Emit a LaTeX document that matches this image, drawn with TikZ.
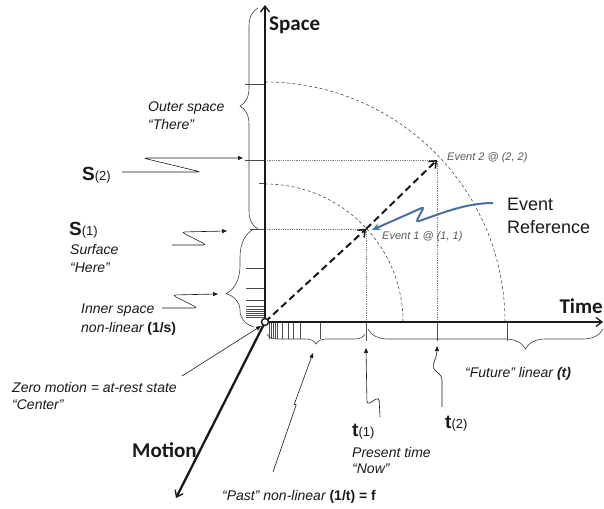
\documentclass[tikz,border=0pt]{standalone}
\usepackage{fontspec}
\setmainfont{Liberation Sans}
\newfontfamily\titlefont{Carlito}
\usetikzlibrary{arrows.meta,decorations.pathreplacing,calc}
\definecolor{evblue}{RGB}{72,112,160}
\definecolor{ink}{RGB}{25,25,25}
\newcommand\symlab[2]{{\fontsize{19}{19}\selectfont\bfseries #1}{\fontsize{13}{13}\selectfont #2}}
\tikzset{
  ax/.style    ={line width=2.3pt,ink,-{Straight Barb[length=6pt,width=9pt,line width=1.3pt]}},
  vec/.style   ={line width=2pt,ink,dash pattern=on 7pt off 4pt,-{Straight Barb[length=6pt,width=10pt,line width=1.5pt]}},
  ttl/.style   ={font=\titlefont\bfseries\fontsize{21}{21}\selectfont,inner sep=0pt,text=ink},
  lbl/.style   ={font=\itshape\fontsize{14}{16}\selectfont,inner sep=0pt,text=ink},
  sym/.style   ={inner sep=0pt,text=ink},
  evt/.style   ={font=\itshape\fontsize{11}{12}\selectfont,inner sep=0pt,text=gray!70!black},
  guide/.style ={densely dotted,gray,line width=0.8pt},
  ring/.style  ={gray!60!black,line width=0.6pt,dash pattern=on 3pt off 2.5pt},
  tk/.style    ={line width=0.6pt,gray!60!black},
  brc/.style 2 args={decorate,decoration={brace,amplitude=#1,aspect=#2},line width=0.6pt,gray!50!black},
  ptr/.style   ={line width=0.6pt,ink,rounded corners=4pt,-{Triangle[length=5pt,width=4pt]}},
}
\begin{document}
\begin{tikzpicture}[x=1pt,y=-1pt]
  \useasboundingbox (0,0) rectangle (604,508);
  % key points
  \coordinate (O) at (265,322);
  \coordinate (E1) at (366,229);
  \coordinate (E2) at (437,160);
  \coordinate (spTop) at (265,5);
  \coordinate (tmEnd) at (603,322);
  \coordinate (mtEnd) at (176,498);
  % circles through the events
  \draw[ring] (O) ++(138,0) arc[start angle=0,end angle=-90,radius=138];
  \draw[ring] (O) ++(240,0) arc[start angle=0,end angle=-90,radius=240];
  % projections
  \draw[guide] (O |- E2) -- (E2) -- (E2 |- O);
  \draw[guide] (O |- E1) -- (E1) -- (E1 |- O);
  % scale marks on space
  \foreach \y in {84,160} \draw[tk] (245,\y) -- (265,\y);
  \draw[tk] (250,229) -- (265,229);
  \draw[tk] (259,183) -- (265,183);
  \foreach \y in {268,288,300,306,309,311,313,315,317} \draw[tk] (246,\y) -- (265,\y);
  % scale marks on time
  \foreach \x in {269,271,273,275,277,282,288,293,300,320} \draw[tk] (\x,322) -- (\x,339);
  \foreach \x in {366,437,507} \draw[tk] (\x,322) -- (\x,341);
  % braces
  \draw[brc={18pt}{0.556}] (258,229) -- (258,8);
  \draw[brc={28pt}{0.34}] (254,327) -- (254,229);
  \draw[brc={10pt}{0.5}] (365,334) -- (267,334);
  \draw[brc={20pt}{0.33}] (603,329) -- (368,329);
  % axes
  \draw[ax] (O) -- (spTop);
  \draw[ax] (O) -- (tmEnd);
  \draw[ax] (O) -- (mtEnd);
  % event vectors
  \draw[vec] (O) -- (E1);
  \draw[vec] (E1) -- (E2);
  \node[circle,draw=ink,fill=white,inner sep=0pt,minimum size=7pt,line width=1.4pt] (orig) at (O) {};
  % axis titles
  \node[ttl,anchor=base west] (space) at (269,31) {Space};
  \node[ttl,anchor=base east] (time) at (603,313) {Time};
  \node[ttl,anchor=base west] (motion) at (132,457) {Motion};
  % labels
  \node[lbl,anchor=base west] (outer) at (148,111) {Outer space};
  \node[lbl,anchor=base west] (there) at (148,129) {“There”};
  \node[sym,anchor=base west] (s2) at (82,180) {\symlab{S}{(2)}};
  \node[sym,anchor=base west] (s1) at (69,235) {\symlab{S}{(1)}};
  \node[lbl,anchor=base west] (surf) at (70,254) {Surface};
  \node[lbl,anchor=base west] (here) at (70,272) {“Here”};
  \node[lbl,anchor=base west] (inner) at (81,313) {Inner space};
  \node[lbl,anchor=base west] (nonlin) at (81,332) {non-linear \textbf{\upshape(1/s)}};
  \node[lbl,anchor=base west] (zero) at (12,392) {Zero motion = at-rest state};
  \node[lbl,anchor=base west] (center) at (12,409) {“Center”};
  \node[sym,anchor=base west] (t1) at (352,436) {\symlab{t}{(1)}};
  \node[lbl,anchor=base west] (present) at (352,457) {Present time};
  \node[lbl,anchor=base west] (now) at (352,473) {“Now”};
  \node[sym,anchor=base west] (t2) at (445,428) {\symlab{t}{(2)}};
  \node[lbl,anchor=base west] (past) at (222,500) {“Past” non-linear \textbf{\upshape(1/t) = f}};
  \node[lbl,anchor=base west] (future) at (465,377) {“Future” linear \textbf{(t)}};
  \node[evt,anchor=base west] (ev2) at (447,160) {Event 2 @ (2, 2)};
  \node[evt,anchor=base west] (ev1) at (382,239) {Event 1 @ (1, 1)};
  \node[font=\fontsize{18}{21}\selectfont,anchor=base west,inner sep=0pt,text=ink] (evref) at (507,210) {Event};
  \node[font=\fontsize{18}{21}\selectfont,anchor=base west,inner sep=0pt,text=ink] (evref2) at (507,233) {Reference};
  % squiggly pointers
  \coordinate (s2tail) at (122,172);  \coordinate (s2tip) at (243,158);
  \coordinate (s1tail) at (172,245);  \coordinate (s1tip) at (227,231);
  \coordinate (intail) at (162,308);  \coordinate (intip) at (218,294);
  \coordinate (zrtail) at (182,376);  \coordinate (zrtip) at (261,326);
  \coordinate (pstail) at (273,472);  \coordinate (pstip) at (313,353);
  \coordinate (t1tail) at (380,417);  \coordinate (t1tip) at (366,348);
  \coordinate (t2tail) at (442,407);  \coordinate (t2tip) at (437,346);
  \coordinate (evtail) at (493,203);  \coordinate (evtip) at (372,230);
  \draw[ptr] (s2tail) -- (201,172) -- (143,158) -- (s2tip);
  \draw[ptr] (s1tail) -- (207,245) -- (181,232) -- (s1tip);
  \draw[ptr] (intail) -- (198,308) -- (172,295) -- (intip);
  \draw[ptr] (zrtail) -- (zrtip);
  \draw[ptr,rounded corners=1pt] (pstail) -- (296.5,404) -- (294,405) -- (pstip);
  \draw[ptr] (t1tail) -- (379,397) -- (367,405) -- (t1tip);
  \draw[ptr] (t2tail) -- (442,376) -- (432,368) -- (437,354) -- (t2tip);
  \draw[evblue,line width=2pt,rounded corners=3pt,-{Stealth[length=8pt,width=7pt]}]
    (evtail) .. controls (465,203) and (440,214) .. (416,222) -- (424,207) -- (evtip);
\end{tikzpicture}
\end{document}
